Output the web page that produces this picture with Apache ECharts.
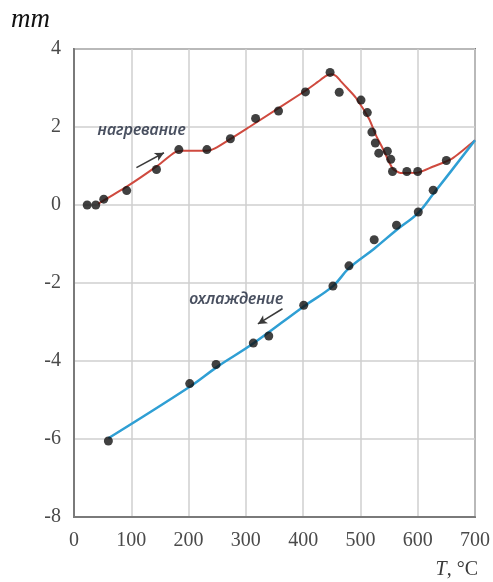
<!DOCTYPE html>
<html>
<head>
<meta charset="utf-8">
<script src="https://cdn.jsdelivr.net/npm/echarts@6/dist/echarts.min.js"></script>
<style>
  html, body { margin: 0; padding: 0; background: #fff; }
  #chart { width: 493px; height: 582px; }
</style>
</head>
<body>
<div id="chart"></div>
<script>
// Dilatometric measurements: elongation (mm) vs temperature (°C)
var heatT = [23, 38, 52, 92, 144, 183, 232, 273, 317, 357, 404, 447, 463, 501, 512, 520, 526, 532, 547, 553, 556, 581, 600, 650, 701];
var heatD = [0, 0, 0.15, 0.37, 0.91, 1.42, 1.42, 1.70, 2.22, 2.41, 2.90, 3.40, 2.89, 2.69, 2.37, 1.87, 1.59, 1.33, 1.38, 1.17, 0.86, 0.86, 0.86, 1.14, 1.67];

var coolT = [60, 202, 248, 313, 340, 401, 452, 480, 524, 563, 601, 627];
var coolD = [-6.05, -4.58, -4.09, -3.54, -3.36, -2.57, -2.08, -1.56, -0.89, -0.52, -0.18, 0.38];

// Fitted curves
var heatFitT = [42, 92, 144, 176, 190, 232, 246, 306, 404, 425, 440, 450, 458, 466, 478, 492, 515, 527, 539, 556, 570, 600, 626, 660, 700];
var heatFitD = [0.03, 0.47, 0.99, 1.35, 1.39, 1.39, 1.45, 2.0, 2.93, 3.15, 3.31, 3.35, 3.30, 3.17, 2.98, 2.75, 2.21, 1.79, 1.45, 0.94, 0.82, 0.83, 0.98, 1.19, 1.66];

var coolFitT = [60, 202, 250, 312, 401, 452, 480, 524, 563, 601, 627, 700];
var coolFitD = [-5.98, -4.66, -4.15, -3.56, -2.6, -2.08, -1.62, -1.12, -0.64, -0.2, 0.28, 1.66];

var xTicks = [0, 100, 200, 300, 400, 500, 600, 700];
var yTicks = [-8, -6, -4, -2, 0, 2, 4];

var heatLabel = { text: 'нагревание', at: [118, 1.92] };
var coolLabel = { text: 'охлаждение', at: [283, -2.41] };
var heatArrow = [[109, 0.96], [157, 1.34]];
var coolArrow = [[364, -2.66], [321, -3.05]];

function zip(a, b) { return a.map(function (v, i) { return [v, b[i]]; }); }

var serif = '"Liberation Serif", "Times New Roman", serif';
var chart = echarts.init(document.getElementById('chart'), null, { renderer: 'canvas' });

chart.setOption({
  animation: false,
  backgroundColor: '#fff',
  grid: { left: 74, right: 17, top: 49, bottom: 65, show: true, borderColor: '#7a7a7a', borderWidth: 2 },
  xAxis: {
    type: 'value', min: xTicks[0], max: xTicks[xTicks.length - 1], interval: 100,
    axisLine: { show: true, onZero: false, lineStyle: { color: '#7a7a7a', width: 2 } },
    axisTick: { show: false },
    splitLine: { show: true, lineStyle: { color: '#cfcfcf', width: 1.5 } },
    axisLabel: { color: '#4a4a4a', fontFamily: serif, fontSize: 20, margin: 14, showMaxLabel: true, showMinLabel: true }
  },
  yAxis: {
    type: 'value', min: yTicks[0], max: yTicks[yTicks.length - 1], interval: 2,
    axisLine: { show: true, onZero: false, lineStyle: { color: '#7a7a7a', width: 2 } },
    axisTick: { show: false },
    splitLine: { show: true, lineStyle: { color: '#cfcfcf', width: 1.5 } },
    axisLabel: { color: '#4a4a4a', fontFamily: serif, fontSize: 20, margin: 13 }
  },
  series: [
    {
      type: 'line', data: zip(heatFitT, heatFitD), smooth: 0.2, symbol: 'none',
      lineStyle: { color: '#cf4a3f', width: 2 }, z: 2,
      markLine: {
        silent: true, symbol: ['none', 'arrow'], symbolSize: [7, 9],
        lineStyle: { color: '#3a3a3a', width: 1.5, type: 'solid' }, label: { show: false },
        data: [[{ coord: heatArrow[0] }, { coord: heatArrow[1] }], [{ coord: coolArrow[0] }, { coord: coolArrow[1] }]]
      }
    },
    {
      type: 'line', data: zip(coolFitT, coolFitD), smooth: 0.4, symbol: 'none',
      lineStyle: { color: '#2f9fd4', width: 2.5 }, z: 2
    },
    {
      type: 'scatter', data: zip(heatT, heatD), symbolSize: 9,
      itemStyle: { color: '#111' }, z: 3
    },
    {
      type: 'scatter', data: zip(coolT, coolD), symbolSize: 9,
      itemStyle: { color: '#111' }, z: 3
    },
    {
      type: 'scatter', symbolSize: 0, silent: true,
      data: [heatLabel, coolLabel].map(function (l) { return { value: l.at, name: l.text }; }),
      label: {
        show: true, position: 'inside', formatter: '{b}',
        fontFamily: '"Noto Sans", "DejaVu Sans", sans-serif', fontStyle: 'italic', fontWeight: 600,
        fontSize: 16, color: '#1c2438'
      }
    }
  ],
  graphic: [
    {
      type: 'text', left: 11, top: 6,
      style: { text: 'mm', font: 'italic 27px ' + serif, fill: '#111' }
    },
    {
      type: 'text', right: 15, top: 560,
      style: {
        text: '{i|T}, °C',
        rich: { i: { fontStyle: 'italic', fontFamily: serif, fontSize: 20, fill: '#3a3a3a' } },
        font: '20px ' + serif, fill: '#3a3a3a'
      }
    }
  ]
});
</script>
</body>
</html>
